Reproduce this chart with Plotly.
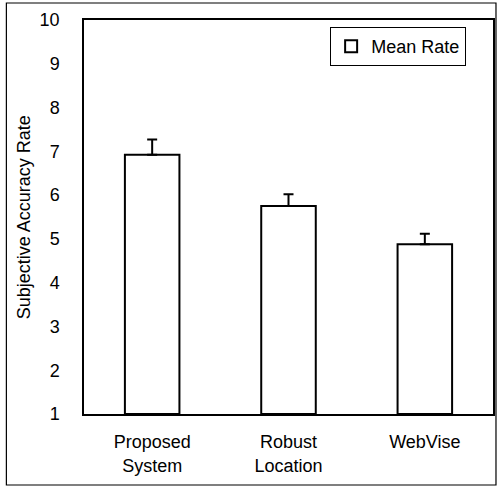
import plotly.graph_objects as go

categories = ["Proposed<br>System", "Robust<br>Location", "WebVise"]
mean_rate = [6.92, 5.75, 4.88]
error_up = [0.35, 0.27, 0.24]
y_ticks = [1, 2, 3, 4, 5, 6, 7, 8, 9, 10]

W, H = 500, 487
L, R, T, B = 84, 5, 20, 73

fig = go.Figure()
fig.add_trace(go.Bar(
    x=categories, y=[v - 1 for v in mean_rate], base=1,
    name="Mean Rate", width=0.4,
    marker=dict(color="white", line=dict(color="black", width=2)),
    error_y=dict(type="data", array=error_up, arrayminus=[0] * len(error_up),
                 symmetric=False, color="black", thickness=2, width=5),
    showlegend=True,
))

fig.update_layout(
    width=W, height=H,
    margin=dict(l=L, r=R, t=T, b=B),
    paper_bgcolor="white", plot_bgcolor="white",
    font=dict(family="Liberation Sans, Arial, sans-serif", size=18, color="black"),
    showlegend=True,
    legend=dict(x=(468 - L) / (W - L - R), y=1 - (27 - T) / (H - T - B),
                xanchor="right", yanchor="top",
                bgcolor="white", bordercolor="black", borderwidth=1,
                font=dict(size=18), itemwidth=30, tracegroupgap=0),
    xaxis=dict(showline=True, linecolor="black", linewidth=1.5, mirror=True,
               showgrid=False, ticks="", ticklabelstandoff=11,
               tickfont=dict(size=18)),
    yaxis=dict(range=[1, 10], tickvals=y_ticks, showline=True, linecolor="black",
               linewidth=1.5, mirror=True, showgrid=False, zeroline=False,
               ticks="", ticklabelstandoff=19, tickfont=dict(size=18)),
    shapes=[dict(type="rect", xref="paper", yref="paper",
                 x0=(6 - L) / (W - L - R), x1=(498 - L) / (W - L - R),
                 y0=-(485 - (H - B)) / (H - T - B), y1=1 + (T - 3) / (H - T - B),
                 line=dict(color="black", width=1.2), layer="below")],
    annotations=[dict(text="Subjective Accuracy Rate", textangle=-90,
                      xref="paper", yref="paper", xanchor="center", yanchor="middle",
                      x=(24 - L) / (W - L - R), y=0.5,
                      showarrow=False, font=dict(size=18))],
)

fig.write_html("out.html", config={"displayModeBar": False},
               post_script="document.body.style.margin='0px';")
